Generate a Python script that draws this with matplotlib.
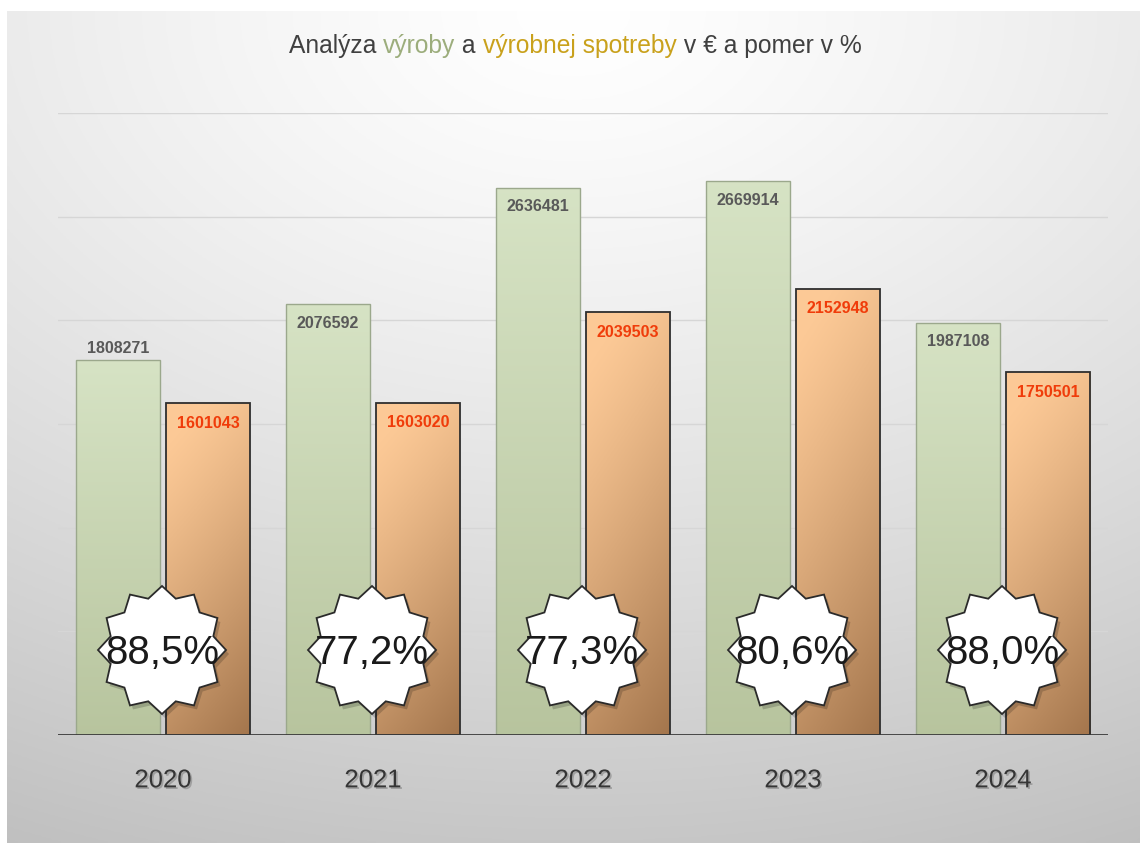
import numpy as np
import matplotlib.pyplot as plt
import matplotlib.patheffects as pe
from matplotlib.patches import Rectangle, Polygon

# chart data
years = ['2020', '2021', '2022', '2023', '2024']
vyroba = [1808271, 2076592, 2636481, 2669914, 1987108]
spotreba = [1601043, 1603020, 2039503, 2152948, 1750501]
pomer = ['88,5%', '77,2%', '77,3%', '80,6%', '88,0%']

regular = ['Liberation Sans', 'DejaVu Sans']

W, H = 1140, 843
fig = plt.figure(figsize=(W / 100, H / 100), dpi=100)
fig.patch.set_facecolor('white')

# background gradient (whole figure, with thin white margin at left/top)
bg = fig.add_axes([7 / W, 0, 1 - 7 / W, 1 - 11 / H])
bg.set_axis_off()
yy, xx = np.mgrid[0:1:300j, 0:1:400j]
d = np.sqrt(((xx - 0.5) * 0.9) ** 2 + ((1 - yy) * 1.0) ** 2)
shade = 1.0 - 0.22 * np.clip(d, 0, 1.1) ** 1.3
bg.imshow(np.dstack([shade, shade, shade]), extent=[0, 1, 0, 1], aspect='auto', origin='lower')
bg.set_xlim(0, 1)
bg.set_ylim(0, 1)

ax = fig.add_axes([58 / W, (H - 735) / H, 1050 / W, 622 / H])
ax.patch.set_alpha(0)
ax.set_xlim(-0.5, len(years) - 0.5)
ax.set_ylim(0, 3000000)
for v in range(500000, 3000001, 500000):
    ax.axhline(v, color='#d6d6d6', lw=1.0, zorder=0)
ax.axhline(0, color='#3a3a3a', lw=2.0, zorder=5)
for s in ax.spines.values():
    s.set_visible(False)
ax.set_yticks([])
ax.set_xticks([])

x = np.arange(len(years))
bw = 0.4
off = 0.215

# gradients for the bars
gy, gx = np.mgrid[0:1:200j, 0:1:60j]
green_top = np.array([0.84, 0.89, 0.77])
green_bot = np.array([0.72, 0.77, 0.62])
g_img = green_bot + (green_top - green_bot) * gy[..., None]
or_top = np.array([0.99, 0.79, 0.59])
or_bot = np.array([0.64, 0.46, 0.30])
t = np.clip(0.85 * (1 - gy) + 0.25 * gx - 0.1, 0, 1) ** 1.2
o_img = or_top + (or_bot - or_top) * t[..., None]


def grad_bar(xc, h, img, edge, lw):
    left = xc - bw / 2
    im = ax.imshow(img, extent=[left, left + bw, 0, h], origin='lower', aspect='auto', zorder=2)
    r = Rectangle((left, 0), bw, h, facecolor='none', edgecolor=edge, lw=lw, zorder=3)
    ax.add_patch(r)
    im.set_clip_path(r)


for i in range(len(years)):
    grad_bar(x[i] - off, vyroba[i], g_img, '#9ba88c', 1.0)
    grad_bar(x[i] + off, spotreba[i], o_img, '#2e2e2e', 1.3)

ax.set_xlim(-0.5, len(years) - 0.5)
ax.set_ylim(0, 3000000)

# value labels
for i in range(len(years)):
    gv = vyroba[i]
    if i == 0:
        ax.annotate(str(gv), (x[i] - off, gv), xytext=(0, 3), textcoords='offset points',
                    ha='center', va='bottom', fontsize=11.5, fontweight='bold',
                    color='#595959', family=regular, zorder=6)
    else:
        ax.annotate(str(gv), (x[i] - off, gv), xytext=(0, -8), textcoords='offset points',
                    ha='center', va='top', fontsize=11.5, fontweight='bold',
                    color='#595959', family=regular, zorder=6)
    ax.annotate(str(spotreba[i]), (x[i] + off, spotreba[i]), xytext=(0, -9),
                textcoords='offset points', ha='center', va='top', fontsize=11.5,
                fontweight='bold', color='#f03c0a', family=regular, zorder=6)

# star badges with percentage
n_pts = 12
ang = np.pi / 2 + np.arange(2 * n_pts) * np.pi / n_pts
rad = np.where(np.arange(2 * n_pts) % 2 == 0, 1.0, 0.83)
for i in range(len(years)):
    cx_px = 58 + (i + 0.5) * 210 - 1
    cy_px = H - 650
    rx, ry = 64, 64
    px = cx_px + rx * rad * np.cos(ang)
    py = cy_px + ry * rad * np.sin(ang)
    shadow = Polygon(np.column_stack([px + 3, py - 4]), closed=True, transform=None,
                     facecolor='black', alpha=0.18, edgecolor='none', zorder=7)
    fig.add_artist(shadow)
    star = Polygon(np.column_stack([px, py]), closed=True, transform=None,
                   facecolor='white', edgecolor='#2a2a2a', lw=1.3, zorder=8)
    fig.add_artist(star)
    fig.text(cx_px / W, (cy_px - 3) / H, pomer[i], ha='center', va='center',
             fontsize=29, color='#1a1a1a', family=regular, zorder=9)

# year labels
for i, yr in enumerate(years):
    ax.annotate(yr, (x[i], 0), xytext=(0, -24), textcoords='offset points',
                ha='center', va='top', fontsize=18.5, color='#353535', family=regular,
                path_effects=[pe.withSimplePatchShadow(offset=(1.2, -1.2), shadow_rgbFace='#777777', alpha=0.5)])

# title made of coloured pieces
parts = [('Analýza ', '#404040'), ('výroby', '#9cad7c'), (' a ', '#404040'),
         ('výrobnej spotreby', '#c9a11c'), (' v € a pomer v %', '#404040')]
fig.canvas.draw()
renderer = fig.canvas.get_renderer()
texts = []
total = 0
for s, c in parts:
    tt = fig.text(0, 0, s, fontsize=17.7, color=c, family=regular, va='baseline')
    w = tt.get_window_extent(renderer).width
    texts.append((tt, w))
    total += w
xpos = 575 - total / 2
for tt, w in texts:
    tt.set_position((xpos / W, (H - 53) / H))
    xpos += w

fig.savefig('out.png', dpi=100)
